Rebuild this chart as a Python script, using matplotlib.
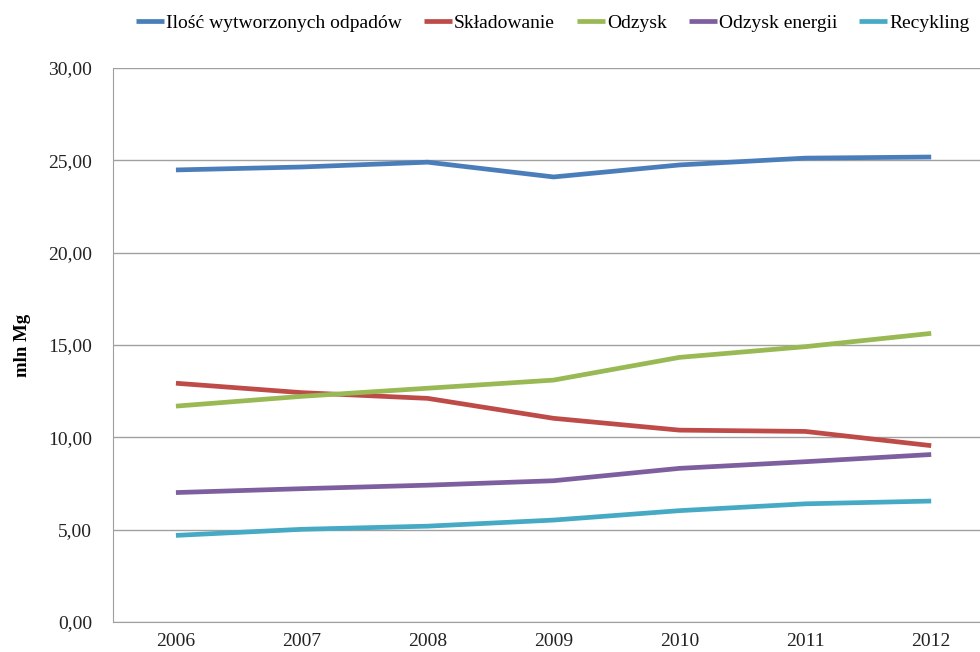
import matplotlib
matplotlib.use("Agg")
import matplotlib.pyplot as plt
from matplotlib.ticker import FuncFormatter

plt.rcParams['font.family'] = ['Liberation Serif', 'DejaVu Serif']

years = ["2006", "2007", "2008", "2009", "2010", "2011", "2012"]
ilosc = [24.48, 24.64, 24.90, 24.10, 24.75, 25.12, 25.18]
skladowanie = [12.93, 12.42, 12.11, 11.03, 10.39, 10.32, 9.55]
odzysk = [11.69, 12.22, 12.66, 13.10, 14.33, 14.91, 15.63]
odzysk_energii = [7.01, 7.22, 7.41, 7.65, 8.32, 8.68, 9.07]
recykling = [4.69, 5.02, 5.19, 5.52, 6.03, 6.40, 6.55]

series = [
    ("Ilość wytworzonych odpadów", ilosc, "#4a7ebb"),
    ("Składowanie", skladowanie, "#be4b48"),
    ("Odzysk", odzysk, "#98b954"),
    ("Odzysk energii", odzysk_energii, "#7d5fa0"),
    ("Recykling", recykling, "#46aac5"),
]

fig = plt.figure(figsize=(9.8, 6.52), dpi=100)
ax = fig.add_axes([0.1153, 0.046, 0.885, 0.8497])

x = list(range(len(years)))
for name, vals, col in series:
    ax.plot(x, vals, color=col, lw=3.4, label=name, solid_capstyle='butt')

ax.set_xlim(-0.5, 6.39)
ax.set_ylim(0, 30)
ax.set_yticks([0, 5, 10, 15, 20, 25, 30])
ax.yaxis.set_major_formatter(FuncFormatter(lambda v, p: f"{v:.2f}".replace(".", ",")))
ax.set_xticks(x)
ax.set_xticklabels(years)
ax.grid(axis='y', color='#a0a0a0', lw=1)
ax.set_axisbelow(True)
for s in ['top', 'right']:
    ax.spines[s].set_visible(False)
for s in ['left', 'bottom']:
    ax.spines[s].set_color('#a0a0a0')
ax.tick_params(axis='both', length=0, labelsize=14, colors='#222222')
ax.tick_params(axis='x', pad=8)
ax.tick_params(axis='y', pad=15)
ax.set_ylabel("mln Mg", fontsize=13.5, fontweight='bold', labelpad=12)

leg = fig.legend(loc='center', bbox_to_anchor=(0.564, 0.965), ncol=5, frameon=False,
                 fontsize=14, handlelength=1.45, handletextpad=0.1, columnspacing=1.12)

fig.savefig("out.png", dpi=100)
